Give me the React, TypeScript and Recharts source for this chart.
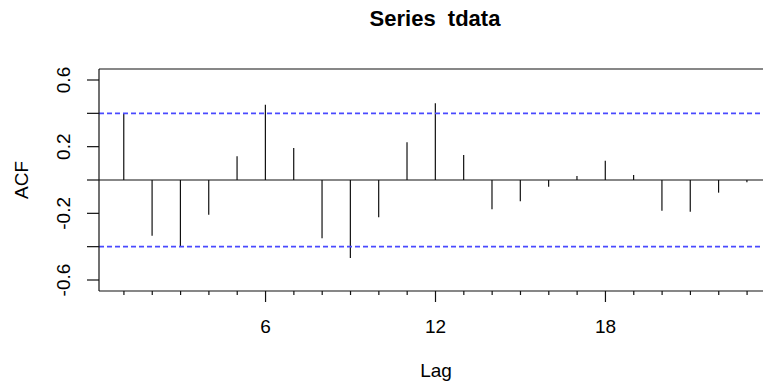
import { ComposedChart, Bar, XAxis, YAxis, ReferenceLine } from "recharts";

// ACF estimates per lag
const lags = [1, 2, 3, 4, 5, 6, 7, 8, 9, 10, 11, 12, 13, 14, 15, 16, 17, 18, 19, 20, 21, 22, 23];
const acfValues = [
  0.396, -0.334, -0.4, -0.208, 0.142, 0.452, 0.192, -0.35, -0.468, -0.224, 0.226, 0.46,
  0.15, -0.176, -0.128, -0.04, 0.024, 0.116, 0.03, -0.184, -0.19, -0.076, -0.014,
];
const yTicks = [-0.6, -0.4, -0.2, 0, 0.2, 0.4, 0.6];
const yLabelled = [-0.6, -0.2, 0.2, 0.6];
const xLabelled = [6, 12, 18];
const ciBound = 0.4;

const xDomain: [number, number] = [0.12, 23.88];
const yDomain: [number, number] = [-0.666, 0.666];

const FONT = '"Liberation Sans", Arial, Helvetica, sans-serif';

const data = lags.map((lag, i) => ({ lag, acf: acfValues[i] }));

function Spike(props: any) {
  const { x, y, width, height } = props;
  const cx = x + width / 2;
  return <line x1={cx} x2={cx} y1={y} y2={y + height} stroke="#111" strokeWidth={1.2} />;
}

function LagTick(props: any) {
  const { x, y, payload } = props;
  const major = xLabelled.includes(payload.value);
  return (
    <g>
      <line x1={x} x2={x} y1={y} y2={y + (major ? 11 : 4)} stroke="#111" strokeWidth={1.2} />
      {major && (
        <text x={x} y={y + 42} textAnchor="middle" fontSize={19} fontFamily={FONT} fill="#000">
          {payload.value}
        </text>
      )}
    </g>
  );
}

function AcfTick(props: any) {
  const { x, y, payload } = props;
  const show = yLabelled.some(v => Math.abs(v - payload.value) < 1e-9);
  const tx = x - 29;
  return (
    <g>
      <line x1={x - 12} x2={x} y1={y} y2={y} stroke="#111" strokeWidth={1.2} />
      {show && (
        <text
          x={tx}
          y={y}
          textAnchor="middle"
          fontSize={19}
          fontFamily={FONT}
          fill="#000"
          transform={`rotate(-90, ${tx}, ${y})`}
        >
          {payload.value}
        </text>
      )}
    </g>
  );
}

export default function App() {
  return (
    <div
      style={{
        position: "absolute",
        top: 0,
        left: 0,
        width: 763,
        height: 385,
        overflow: "hidden",
        background: "#fff",
      }}
    >
      <ComposedChart
        width={800}
        height={385}
        data={data}
        margin={{ top: 69, right: 28, left: 0, bottom: 0 }}
      >
        <XAxis
          dataKey="lag"
          type="number"
          domain={xDomain}
          allowDataOverflow
          ticks={lags}
          interval={0}
          height={94}
          tickSize={0}
          tickMargin={0}
          tickLine={false}
          axisLine={{ stroke: "#111", strokeWidth: 1.2 }}
          tick={<LagTick />}
        />
        <YAxis
          type="number"
          domain={yDomain}
          allowDataOverflow
          ticks={yTicks}
          interval={0}
          width={99}
          tickSize={0}
          tickMargin={0}
          tickLine={false}
          axisLine={{ stroke: "#111", strokeWidth: 1.2 }}
          tick={<AcfTick />}
        />
        <ReferenceLine y={yDomain[1]} stroke="#111" strokeWidth={1.2} />
        <ReferenceLine x={xDomain[1]} stroke="#111" strokeWidth={1.2} />
        <ReferenceLine y={0} stroke="#111" strokeWidth={1.2} />
        <ReferenceLine y={ciBound} stroke="#4a4aff" strokeWidth={1.7} strokeDasharray="5 3" />
        <ReferenceLine y={-ciBound} stroke="#4a4aff" strokeWidth={1.7} strokeDasharray="5 3" />
        <Bar dataKey="acf" barSize={2} shape={<Spike />} isAnimationActive={false} />
      </ComposedChart>
      <svg
        width={763}
        height={385}
        style={{ position: "absolute", top: 0, left: 0, pointerEvents: "none" }}
      >
        <text
          x={435}
          y={26}
          textAnchor="middle"
          fontSize={22}
          fontWeight="bold"
          fontFamily={FONT}
          fill="#000"
          style={{ whiteSpace: "pre" }}
        >
          {"Series  tdata"}
        </text>
        <text x={436} y={377} textAnchor="middle" fontSize={19} fontFamily={FONT} fill="#000">
          Lag
        </text>
        <text
          x={28}
          y={180}
          textAnchor="middle"
          fontSize={19}
          fontFamily={FONT}
          fill="#000"
          transform="rotate(-90, 28, 180)"
        >
          ACF
        </text>
      </svg>
    </div>
  );
}
